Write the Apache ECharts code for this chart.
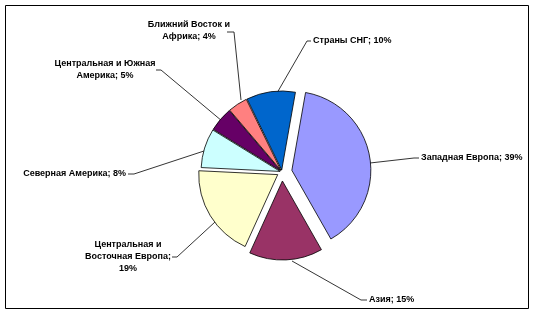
<!DOCTYPE html>
<html>
<head>
<meta charset="utf-8">
<script src="https://cdn.jsdelivr.net/npm/echarts@6/dist/echarts.min.js"></script>
<style>
html,body{margin:0;padding:0;background:#fff;}
#c{width:535px;height:315px;}
</style>
</head>
<body>
<div id="c"></div>
<script>
const categories = ['Западная Европа','Азия','Центральная и Восточная Европа','Северная Америка','Центральная и Южная Америка','Ближний Восток и Африка','Страны СНГ'];
const shares = [39,15,19,8,5,4,10];

// styling / layout (not data)
const colors = ['#9999FF','#993366','#FFFFCC','#CCFFFF','#660066','#FF8080','#0066CC'];
const explode = [10,9,5,2,2,2,2];
const wordsPerLine = [null,null,[2,2,1],null,[3,2],[3,2],null];
const baseCenter = [282,172];
const startDeg = 10; // clockwise from 12 o'clock
const labelPos = [
  {x:421,y:158,align:'left',  line:[[370,163],[414,158],[419,158]]},
  {x:369,y:300,align:'left',  line:[[292,261],[361,300],[367,300]]},
  {x:128,y:257,align:'center',line:[[215,222],[177,257],[172,257]]},
  {x:126,y:174,align:'right', line:[[204,151],[134,174],[128,174]]},
  {x:105,y:70, align:'center',line:[[222,121],[161,70],[156,70]]},
  {x:189,y:31, align:'center',line:[[241,100],[234,32],[227,32]]},
  {x:313,y:41, align:'left',  line:[[277,93],[307,41],[311,41]]}
];

function labelText(i){
  const full = categories[i] + '; ' + shares[i] + '%';
  const w = wordsPerLine[i];
  if(!w) return full;
  const words = full.split(' ');
  const lines = []; let k = 0;
  w.forEach(n => { lines.push(words.slice(k,k+n).join(' ')); k += n; });
  return lines.join('\n');
}

const total = shares.reduce((a,b)=>a+b,0);
function sliceCenter(s){
  let cum = 0; for(let i=0;i<s;i++) cum += shares[i];
  const th = (startDeg + (cum + shares[s]/2)/total*360) * Math.PI/180;
  return [baseCenter[0] + explode[s]*Math.sin(th), baseCenter[1] - explode[s]*Math.cos(th)];
}

const chart = echarts.init(document.getElementById('c'), null, {renderer:'canvas'});
const series = categories.map((name, s) => ({
  type:'pie',
  center: sliceCenter(s),
  radius:79,
  startAngle:90 - startDeg,
  clockwise:true,
  animation:false,
  avoidLabelOverlap:false,
  selectedMode:false,
  silent:true,
  emphasis:{disabled:true},
  label:{
    show:true, position:'outside', color:'#000',
    fontFamily:'Liberation Sans, Arial, sans-serif', fontWeight:'bold', fontSize:9,
    lineHeight:12, formatter: () => labelText(s)
  },
  labelLine:{show:true, lineStyle:{color:'#000', width:0.8}},
  labelLayout: () => ({
    x: labelPos[s].x, y: labelPos[s].y, align: labelPos[s].align, verticalAlign:'middle',
    labelLinePoints: labelPos[s].line
  }),
  data: categories.map((n, i) => i === s ? {
      name:n, value:shares[i],
      itemStyle:{color:colors[i], borderColor:'#000', borderWidth:0.8}
    } : {
      name:n, value:shares[i],
      itemStyle:{color:'transparent', borderWidth:0},
      label:{show:false}, labelLine:{show:false}
    })
}));

chart.setOption({
  animation:false,
  graphic:[{type:'rect', shape:{x:5.5,y:5.5,width:523,height:303}, style:{fill:'none', stroke:'#000', lineWidth:1}, z:-1}],
  series: series
});
</script>
</body>
</html>
